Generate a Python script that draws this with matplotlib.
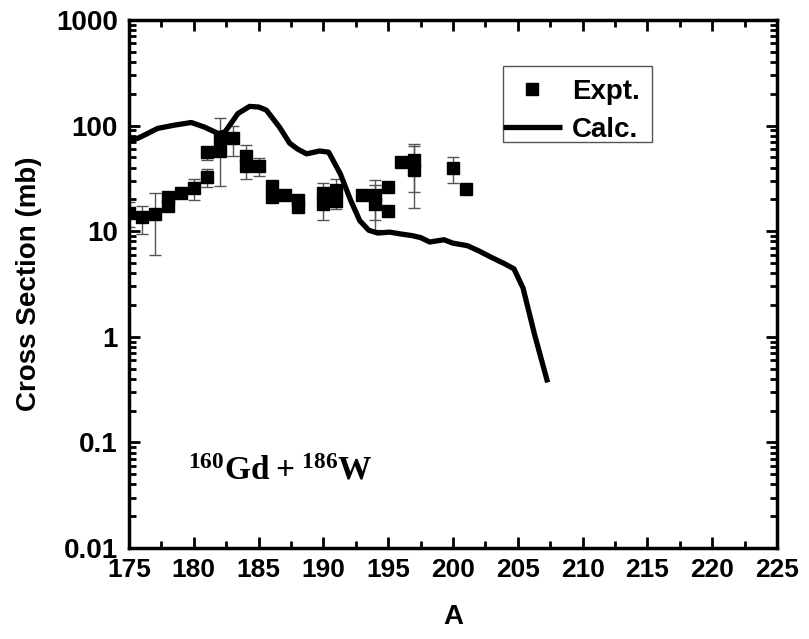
import matplotlib
matplotlib.use("Agg")
import matplotlib.pyplot as plt
from matplotlib.ticker import FixedLocator, LogLocator, NullFormatter, MultipleLocator
from matplotlib.patches import Rectangle
import numpy as np

plt.rcParams['font.family'] = ['Liberation Sans', 'DejaVu Sans']
plt.rcParams['font.weight'] = 'bold'
plt.rcParams['mathtext.fontset'] = 'custom'
plt.rcParams['mathtext.bf'] = 'Liberation Serif:bold'
plt.rcParams['mathtext.rm'] = 'Liberation Serif:bold'

# Experimental points
expt_A = [175, 176, 177, 178, 178, 179, 180, 181, 181, 182, 182, 183, 184, 184, 185,
          186, 186, 187, 188, 188, 190, 190, 191, 191, 193, 194, 194, 195, 195, 196,
          197, 197, 200, 201]
expt_val = [15, 13.6, 14.7, 17.5, 21, 23, 25.6, 32.6, 56, 75, 58, 77, 52, 41, 41,
            26.6, 21, 22, 19.6, 17, 23, 18, 24.4, 19.2, 22, 22, 18, 26.2, 15.5, 45,
            47, 37.7, 39.7, 25.3]

# Error bars (lower / upper limits)
err_A = [175, 176, 177, 180, 181, 181, 182, 183, 184, 185, 190, 191, 194, 194, 197, 197, 200]
err_lo = [11, 9.5, 5.9, 19.9, 26, 47, 26.6, 52, 31, 33, 12.9, 16.1, 10.3, 12.9, 16.7, 23.5, 28.3]
err_hi = [19, 17.2, 23, 31, 39, 63, 119, 99, 66, 49, 28.6, 31.5, 30.3, 27.6, 67.6, 63.8, 50.5]

# Calculated curve
calc_A = [175, 175.7, 176.5, 177.2, 178.5, 179.8, 180.8, 181.9, 182.4, 183.4, 184.3,
          185.0, 185.6, 186.6, 187.4, 188.0, 188.7, 189.7, 190.4, 191.3, 192.1, 192.8,
          193.5, 194.2, 195.1, 196.0, 196.8, 197.5, 198.2, 199.3, 200.0, 201.1, 202.0,
          202.9, 204.0, 204.7, 205.4, 206.3, 207.3]
calc_val = [72, 76, 85, 94, 101, 107, 97, 84, 87, 130, 152,
            150, 140, 97, 68, 60, 54, 57.5, 56, 35, 19.6, 12.6,
            10.2, 9.6, 9.8, 9.4, 9.1, 8.7, 7.9, 8.3, 7.7, 7.3, 6.5,
            5.7, 4.9, 4.4, 2.9, 1.04, 0.37]

x_ticks = [175, 180, 185, 190, 195, 200, 205, 210, 215, 220, 225]
y_ticks = [0.01, 0.1, 1, 10, 100, 1000]
y_ticklabels = ['0.01', '0.1', '1', '10', '100', '1000']

fig = plt.figure(figsize=(8.09, 6.39), dpi=100)
ax = fig.add_axes([0.1595, 0.1424, 0.801, 0.8263])

ax.errorbar(err_A, err_lo, yerr=[np.zeros(len(err_lo)), np.array(err_hi) - np.array(err_lo)],
            fmt='none', ecolor='#555555', elinewidth=1.0, capsize=4.5, capthick=1.0, zorder=2)
ax.plot(expt_A, expt_val, linestyle='none', marker='s', markersize=8, color='black',
        label='Expt.', zorder=3)
ax.plot(calc_A, calc_val, color='black', linewidth=3.8, label='Calc.', zorder=4,
        solid_joinstyle='round', solid_capstyle='butt')

ax.set_yscale('log')
ax.set_xlim(175, 225)
ax.set_ylim(0.01, 1000)
ax.xaxis.set_major_locator(FixedLocator(x_ticks))
ax.xaxis.set_minor_locator(MultipleLocator(2.5))
ax.yaxis.set_major_locator(FixedLocator(y_ticks))
ax.yaxis.set_minor_locator(LogLocator(base=10, subs=np.arange(2, 10)))
ax.yaxis.set_minor_formatter(NullFormatter())
ax.set_xticklabels([str(t) for t in x_ticks],
                   fontdict={'family': ['Liberation Sans'], 'weight': 'bold', 'size': 19})
ax.set_yticklabels(y_ticklabels, fontdict={'family': ['Liberation Sans'],
                                           'weight': 'bold', 'size': 20})

ax.tick_params(which='both', direction='in', top=True, right=True, width=2)
ax.tick_params(which='major', length=8)
ax.tick_params(which='minor', length=5)
ax.tick_params(axis='x', pad=7)
ax.tick_params(axis='y', pad=8)
for sp in ax.spines.values():
    sp.set_linewidth(2.5)

ax.set_xlabel('A', fontsize=20, fontweight='bold', labelpad=16)
ax.set_ylabel('Cross Section (mb)', fontsize=20, fontweight='bold', labelpad=10)

leg = ax.legend(loc='upper left', bbox_to_anchor=(0.577, 0.889), frameon=False,
                fontsize=20, handlelength=2.12, handletextpad=0.36, labelspacing=0.43,
                borderpad=0.0, borderaxespad=0.0, markerscale=1.0)
for t in leg.get_texts():
    t.set_fontweight('bold')

ax.add_patch(Rectangle((0.5775, 0.769), 0.2297, 0.144, transform=ax.transAxes,
                       fill=False, edgecolor='#555555', linewidth=1.0, zorder=1))

ax.text(0.091, 0.129, r'$\mathbf{^{160}Gd + ^{186}W}$', transform=ax.transAxes,
        fontsize=24, color='black', va='baseline')

fig.savefig('out.png', dpi=100)
